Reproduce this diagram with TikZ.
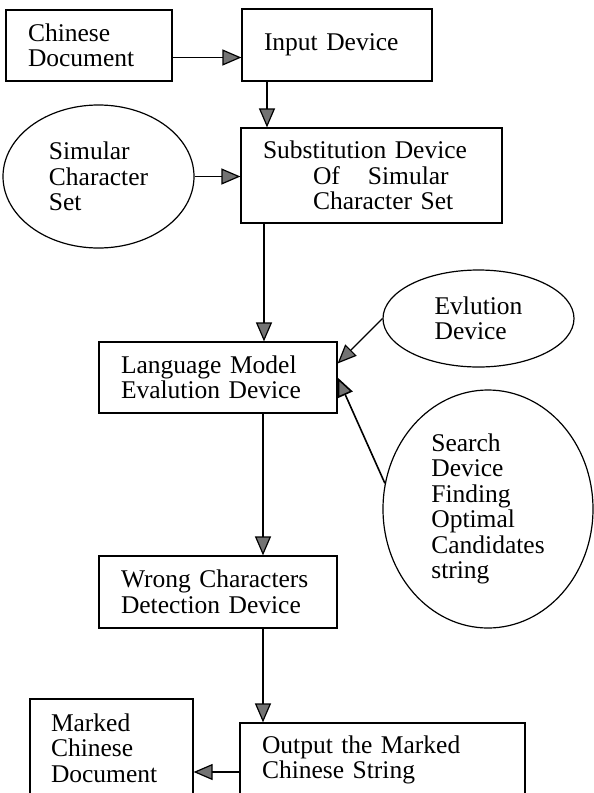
\documentclass[tikz,border=0pt]{standalone}
\usepackage{fontspec}
\setmainfont{Liberation Serif}
\usetikzlibrary{arrows.meta}
\usetikzlibrary{shapes.geometric}
\usetikzlibrary{calc}
\definecolor{tipgray}{RGB}{115,115,115}

\begin{document}
\begin{tikzpicture}[x=1pt, y=-1pt, line width=1.2pt,
  font=\fontsize{25.5}{25.5}\selectfont,
  box/.style={rectangle, draw, align=left, inner xsep=22pt, inner ysep=2pt},
  oval/.style={ellipse, draw, align=left, inner sep=0pt},
  arr/.style={-{Triangle[length=19pt, width=16pt, fill=tipgray]}}]
  \clip (0,0) rectangle (594,793);

  \node[box, text width=122pt, minimum height=71pt] (doc) at (89,45.5) {Chinese\\Document};
  \node[box, text width=146pt, minimum height=72pt] (inp) at (337,45) {Input Device};
  \node[box, text width=217pt, minimum height=95pt] (sub) at (371.5,175.5)
    {Substitution Device\\\hspace*{50pt}Of\hspace{28pt}Simular\\\hspace*{50pt}Character Set};
  \node[oval, minimum width=191pt, minimum height=143pt] (sim) at (98.5,176.5) {Simular\\Character\\Set};

  \node[box, text width=194pt, minimum height=71pt] (lm) at (218,377.5) {Language Model\\Evalution Device};
  \node[oval, minimum width=191pt, minimum height=97pt] (evl) at (478.5,318.5) {Evlution\\Device};
  \node[oval, minimum width=210pt, minimum height=238pt] (srch) at (488,509)
    {Search\\Device\\Finding\\Optimal\\Candidates\\string};

  \node[box, text width=194pt, minimum height=72pt] (wcd) at (218,592) {Wrong Characters\\Detection Device};
  \node[box, inner xsep=21pt, text width=121pt, minimum height=98pt] (mark) at (111.5,748) {Marked\\Chinese\\Document};
  \node[box, text width=241pt, minimum height=74pt] (out) at (382.5,760) {Output the Marked\\Chinese String};

  \draw[arr] ([yshift=-12pt]doc.east) -- ([yshift=-12pt]doc.east -| inp.west);
  \draw[arr] ([xshift=-70pt]inp.south) -- ([xshift=-70pt]inp.south |- sub.north);
  \draw[arr] (sim.east) -- (sim.east -| sub.west);
  \draw[arr] ([xshift=46pt]lm.north |- sub.south) -- ([xshift=46pt]lm.north);
  \draw[arr] (evl.west) -- ([yshift=14pt]lm.east);
  \draw[arr, line width=1.6pt] (srch.166) -- (lm.east);
  \draw[arr] ([xshift=45pt]lm.south) -- ([xshift=45pt]wcd.north);
  \draw[arr] ([xshift=45pt]wcd.south) -- ([xshift=45pt]wcd.south |- out.north);
  \draw[arr] ([yshift=-12pt]out.west) -- ([yshift=-12pt]out.west -| mark.east);
\end{tikzpicture}
\end{document}
